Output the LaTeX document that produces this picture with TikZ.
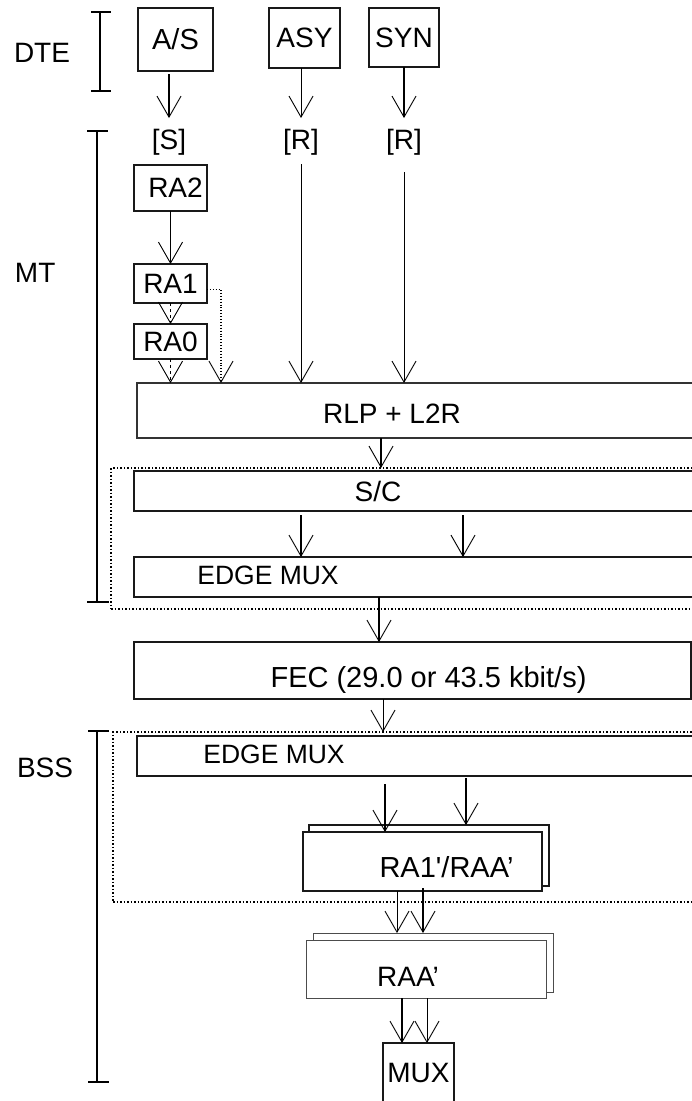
\documentclass[tikz,border=0pt]{standalone}
\usepackage{fontspec}
\setmainfont{Liberation Sans}[Ligatures=TeXOff]
\usetikzlibrary{arrows.meta}
\begin{document}
\begin{tikzpicture}[x=1pt,y=-1pt,
  every node/.style={outer sep=0pt},
  fs/.style={font=\fontsize{28}{32}\selectfont},
  fsm/.style={font=\fontsize{26.5}{30}\selectfont},
  fsl/.style={font=\fontsize{29}{33}\selectfont},
  box/.style={draw=black!90, line width=1.4pt, inner sep=0pt, fill=white, fs, anchor=north west},
  wbox/.style={box, minimum width=600pt},
  txt/.style={inner sep=0pt, fs},
  lbl/.style={inner sep=0pt, fs},
  side/.style={inner sep=0pt, fs, anchor=base west},
  grp/.style={draw, dotted, line width=1.5pt, inner sep=0pt, anchor=north west},
  V/.tip={Straight Barb[length=21pt,width=24pt,line width=0.9pt]},
  tarrow/.style={-V, line width=0.9pt},
  karrow/.style={-V, line width=1.9pt},
  brk/.style={line width=1.5pt},
  tick/.style={line width=2pt},
]
\fill[white] (0,0) rectangle (692,1101);
\useasboundingbox (0,0) rectangle (692,1101);
\clip (0,0) rectangle (692,1101);

% side labels and brackets
\node[side] (dte) at (14,62) {DTE};
\node[side] (mt) at (15,282) {MT};
\node[side] (bss) at (17,777) {BSS};
\draw[brk] (100,12) -- (100,91);
\draw[tick] (91,12) -- (111,12) (91,91) -- (111,91);
\draw[brk] (97,131) -- (97,602);
\draw[tick] (87,131) -- (108,131) (87,602) -- (109,602);
\draw[brk] (97,731) -- (97,1082);
\draw[tick] (88,731) -- (109,731) (88,1082) -- (109,1082);

% dotted groups
\node[grp, minimum width=640pt, minimum height=141pt] (mtgrp) at (111,468) {};
\node[grp, minimum width=640pt, minimum height=170pt] (bssgrp) at (113,732) {};

% DTE boxes
\node[box, minimum width=75pt, minimum height=63pt, fsl] (as) at (138,8) {A/S};
\node[box, minimum width=71pt, minimum height=60pt] (asy) at (269,8) {ASY};
\node[box, minimum width=70pt, minimum height=59pt] (syn) at (369,8) {SYN};

\node[txt, anchor=north] (s) at (169,129) {[S]};
\node[txt, anchor=north] (r1) at (301,129) {[R]};
\node[txt, anchor=north] (r2) at (404,129) {[R]};

% MT
\node[box, minimum width=73pt, minimum height=46pt] (ra2) at (134,165) {\hspace*{10pt}RA2};
\node[box, minimum width=73pt, minimum height=39pt] (ra1) at (134,264) {RA1};
\node[box, minimum width=73pt, minimum height=35pt] (ra0) at (134,324) {RA0};
\node[wbox, minimum height=55pt, draw=black!80,
  label={[lbl, xshift=-45pt, yshift=-3pt]center:RLP + L2R}] (rlp) at (137,383) {};
\node[wbox, minimum height=40pt,
  label={[lbl, xshift=-56pt, yshift=-0.5pt]center:S/C}] (sc) at (134,471) {};
\node[wbox, minimum height=40pt,
  label={[lbl, fsm, xshift=-166pt, yshift=2pt]center:EDGE MUX}] (em1) at (134,557) {};

% FEC
\node[box, minimum width=557pt, minimum height=57pt,
  label={[lbl, fsl, xshift=16pt, yshift=-9pt]center:FEC (29.0 or 43.5 kbit/s)}] (fec) at (134,642) {};

% BSS
\node[wbox, minimum height=40pt,
  label={[lbl, fsm, xshift=-163pt, yshift=2pt]center:EDGE MUX}] (em2) at (137,736) {};
\node[box, minimum width=240pt, minimum height=61pt, line width=1.8pt] (ra1b) at (309,825) {};
\node[box, minimum width=239pt, minimum height=59pt,
  label={[lbl, fsl, xshift=24pt, yshift=-5.5pt]center:RA1'/RAA’}] (ra1f) at (303,832) {};
\node[box, minimum width=240pt, minimum height=59pt, line width=1pt, draw=black!70] (raab) at (313,933) {};
\node[box, minimum width=240pt, minimum height=58pt, line width=1pt, draw=black!70,
  label={[lbl, xshift=-18pt, yshift=-8pt]center:RAA’}] (raaf) at (306,940) {};
\node[box, minimum width=71pt, minimum height=60pt] (mux) at (383,1043) {MUX};

% connectors: DTE -> MT
\draw[karrow] ([xshift=-6.5pt,yshift=-3pt]as.south) -- ([yshift=11pt]s.north);
\draw[tarrow] ([xshift=-3.5pt]asy.south) -- ([yshift=11pt]r1.north);
\draw[karrow] (syn.south) -- ([yshift=11pt]r2.north);

% MT internal
\draw[karrow] (ra2.south) -- (ra1.north);
\draw[tarrow, dashed, line width=1.3pt] (ra1.south) -- (ra0.north);
\draw[tarrow, dashed, line width=1.1pt] (ra0.south) -- ([xshift=33.5pt]rlp.north west);
\draw[tarrow, dotted, line width=1.6pt] ([yshift=-6pt]ra1.east) -| ([xshift=84pt]rlp.north west);
\draw[tarrow] ([yshift=-9pt]r1.south) -- ([xshift=164pt]rlp.north west);
\draw[tarrow] ([yshift=-17pt]r2.south) -- ([xshift=267pt]rlp.north west);
\draw[karrow] ([xshift=244pt]rlp.south west) -- ([xshift=270pt]mtgrp.north west);
\draw[karrow] ([xshift=167pt,yshift=-4pt]sc.south west) -- ([xshift=167pt]em1.north west);
\draw[karrow] ([xshift=329pt,yshift=-4pt]sc.south west) -- ([xshift=329pt]em1.north west);
\draw[karrow] ([xshift=245pt]em1.south west) -- ([xshift=245pt]fec.north west);

% FEC -> BSS
\draw[tarrow] ([xshift=249pt]fec.south west) -- ([xshift=270pt]bssgrp.north west);
\draw[karrow] ([xshift=248pt,yshift=-8pt]em2.south west) -- ([xshift=82pt]ra1f.north west);
\draw[karrow] ([xshift=329pt,yshift=-2pt]em2.south west) -- ([xshift=157pt]ra1b.north west);
\draw[tarrow] ([xshift=94pt]ra1f.south west) -- ([xshift=84pt]raab.north west);
\draw[karrow] ([xshift=120pt,yshift=3pt]ra1f.south west) -- ([xshift=110pt]raab.north west);
\draw[karrow] ([xshift=96pt]raaf.south west) -- ([xshift=19pt]mux.north west);
\draw[tarrow] ([xshift=121pt]raaf.south west) -- ([xshift=44pt]mux.north west);
\end{tikzpicture}
\end{document}
